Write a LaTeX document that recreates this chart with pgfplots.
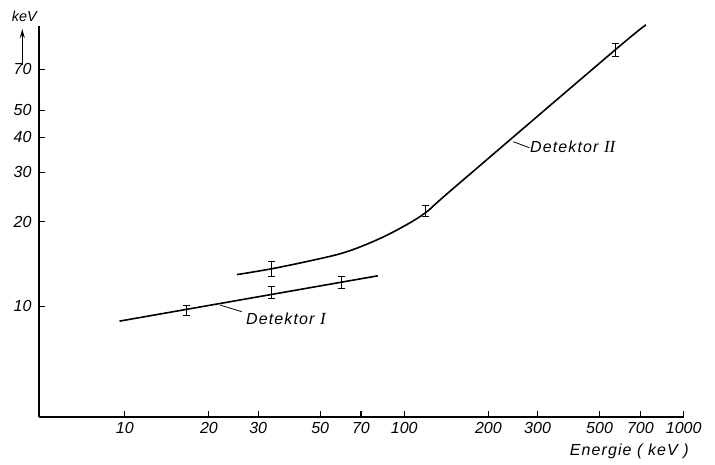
\documentclass[border=0pt]{standalone}
\usepackage{fontspec}
\setmainfont{Liberation Sans}
\newfontfamily\lsw[LetterSpace=7]{Liberation Sans}
\newfontfamily\lser{Liberation Serif}
\usepackage{pgfplots}
\pgfplotsset{compat=1.18}
\usetikzlibrary{arrows.meta}
\begin{document}
\begin{tikzpicture}
\useasboundingbox (-39pt,-48pt) rectangle (676pt,417pt);
\begin{axis}[
  scale only axis,
  width=644.7pt, height=391pt,
  xmode=log, ymode=log,
  xmin=4.93, xmax=1000, ymin=4.02, ymax=100,
  axis x line=bottom, axis y line=left,
  axis line style={-, line width=1.2pt, black},
  clip=false,
  tick align=inside,
  major tick length=6pt,
  tick style={line width=1.1pt, black},
  xtick={10,20,30,50,70,100,200,300,500,700,1000},
  xticklabels={10,20,30,50,70,100,200,300,500,700,1000},
  ytick={10,20,30,40,50,70},
  yticklabels={10,20,30,40,50,70},
  minor xtick={}, minor ytick={},
  xticklabel style={font=\fontsize{16}{17}\selectfont\itshape, yshift=-1.5pt},
  yticklabel style={font=\fontsize{16}{17}\selectfont\itshape, xshift=-4pt},
]
% Detektor I
\addplot[black, line width=1.6pt] coordinates {(9.57,8.84) (80.4,12.83)};
% Detektor II
\addplot[black, line width=1.6pt, smooth, tension=0.6] coordinates {
 (25.2,12.96) (33.6,13.6) (47.3,14.6) (60.5,15.5) (75.5,16.83) (94,18.68)
 (118.7,21.5) (149.9,26.33) (568,82.1) (733,100.8)};
% error bars (vertical strokes)
\addplot[draw=none, mark=none,
  error bars/.cd, y dir=both, y explicit, error mark=none,
  error bar style={draw=black, solid, line width=0.9pt}]
 coordinates {
 (16.67,9.68) += (0,0.34) -= (0,0.39)
 (33.6,11.19) += (0,0.53) -= (0,0.54)
 (59.8,12.21) += (0,0.59) -= (0,0.64)
 (33.6,13.61) += (0,0.78) -= (0,0.81)
 (118.7,21.72) += (0,1.23) -= (0,0.88)
 (567.8,82.1) += (0,4.2) -= (0,4.4)
 };
% error bar caps
\addplot[only marks, mark=-, mark size=3.5pt, mark options={line width=0.9pt, black}]
 coordinates {
 (16.67,10.02) (33.6,11.72) (59.8,12.80) (33.6,14.39) (118.7,22.95) (567.8,86.3)
 (16.67,9.29) (33.6,10.65) (59.8,11.57) (33.6,12.80) (118.7,20.84) (567.8,77.7)
 };
\end{axis}
% leaders and labels
\draw[line width=0.8pt] (181pt,112pt) -- (202.7pt,105.3pt);
\node[anchor=west, inner sep=0pt] at (207pt,98pt) {\fontsize{16}{18}\selectfont\lsw\itshape Detektor {\lser\itshape\fontsize{17}{18}\selectfont I}};
\draw[line width=0.8pt] (474.3pt,275.3pt) -- (490.3pt,269.3pt);
\node[anchor=west, inner sep=0pt] at (491pt,270pt) {\fontsize{16}{18}\selectfont\lsw\itshape Detektor {\lser\itshape\fontsize{17}{18}\selectfont II}};
\node[anchor=east, inner sep=0pt] at (650pt,-34pt) {\fontsize{16}{18}\selectfont\lsw\itshape Energie ( keV )};
\node[anchor=base west, inner sep=0pt] at (-27.3pt,395.3pt) {\fontsize{14.5}{16}\selectfont\itshape keV};
\draw[line width=1.1pt, -{Stealth[length=9pt,width=5pt]}] (-16.7pt,352pt) -- (-16.7pt,388pt);
\end{tikzpicture}
\end{document}
